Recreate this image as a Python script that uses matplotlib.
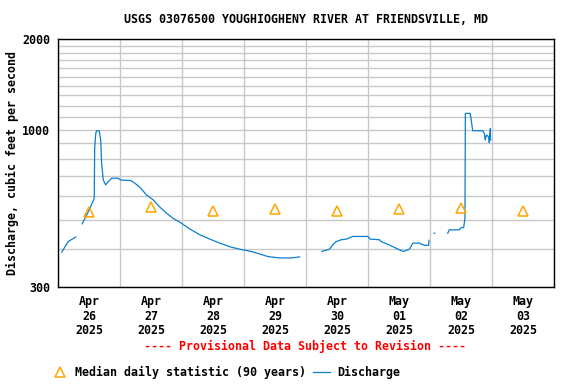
import matplotlib
matplotlib.use("Agg")
import matplotlib.pyplot as plt
import matplotlib.dates as mdates
from matplotlib.lines import Line2D
import numpy as np
import pandas as pd

# discharge, cfs (None = gap in the record)
q_times = [
    "2025-04-26 01:20", "2025-04-26 03:50", "2025-04-26 06:45", "2025-04-26 08:00",
    "2025-04-26 09:15", "2025-04-26 11:00", "2025-04-26 12:15", "2025-04-26 13:30",
    "2025-04-26 13:55", "2025-04-26 14:05", "2025-04-26 14:30", "2025-04-26 14:50",
    "2025-04-26 15:50", "2025-04-26 16:25", "2025-04-26 16:45", "2025-04-26 17:25",
    "2025-04-26 18:20", "2025-04-26 19:20", "2025-04-26 20:40", "2025-04-26 23:10",
    "2025-04-27 00:05", "2025-04-27 04:05", "2025-04-27 05:40", "2025-04-27 07:35",
    "2025-04-27 10:10", "2025-04-27 12:45", "2025-04-27 15:20", "2025-04-27 17:55",
    "2025-04-27 20:25", "2025-04-27 23:40", "2025-04-28 02:55", "2025-04-28 06:45",
    "2025-04-28 10:40", "2025-04-28 14:30", "2025-04-28 19:00", "2025-04-28 22:15",
    "2025-04-29 02:45", "2025-04-29 09:10", "2025-04-29 13:40", "2025-04-29 18:10",
    "2025-04-29 21:25", "2025-04-30 02:00",
    "2025-04-30 06:00", "2025-04-30 09:00", "2025-04-30 10:15", "2025-04-30 11:35",
    "2025-04-30 13:30", "2025-04-30 15:30", "2025-04-30 18:00", "2025-04-30 23:50",
    "2025-05-01 00:45", "2025-05-01 04:20", "2025-05-01 05:00", "2025-05-01 07:55",
    "2025-05-01 10:45", "2025-05-01 12:05", "2025-05-01 13:35", "2025-05-01 15:55",
    "2025-05-01 17:15", "2025-05-01 19:45", "2025-05-01 21:45", "2025-05-01 23:20",
    "2025-05-01 23:30", "2025-05-02 00:30",
    "2025-05-02 01:30", "2025-05-02 01:45", "2025-05-02 04:00",
    "2025-05-02 06:45", "2025-05-02 07:20", "2025-05-02 11:15", "2025-05-02 11:55",
    "2025-05-02 12:55", "2025-05-02 13:25", "2025-05-02 13:35", "2025-05-02 15:25",
    "2025-05-02 15:45", "2025-05-02 16:25", "2025-05-02 20:15", "2025-05-02 20:55",
    "2025-05-02 21:15", "2025-05-02 21:45", "2025-05-02 22:35", "2025-05-02 22:50",
    "2025-05-02 23:15", "2025-05-02 23:20",
]
q_values = [
    391, 424, 439, None,
    486, 520, 548, 579,
    591, 867, 972, 992,
    992, 924, 775, 680,
    655, 671, 689, 689,
    680, 677, 663, 643,
    606, 584, 552, 527,
    507, 488, 467, 447,
    432, 419, 406, 400,
    393, 378, 374, 374,
    377, None,
    393, 400, 414, 424,
    430, 432, 441, 441,
    432, 430, 424, 414,
    403, 398, 393, 400,
    419, 419, 412, 412,
    428, None,
    452, 452, None,
    452, 464, 464, 472,
    472, 507, 1133, 1133,
    1091, 992, 992, 972,
    924, 960, 947, 905,
    1010, 924,
]

# median daily statistic (90 years), plotted at noon
med_days = ["2025-04-26", "2025-04-27", "2025-04-28", "2025-04-29",
            "2025-04-30", "2025-05-01", "2025-05-02", "2025-05-03"]
med_values = [531, 554, 535, 545, 535, 543, 547, 538]

y_grid = [300, 400, 500, 600, 700, 800, 900, 1000, 1100, 1200, 1300,
          1400, 1500, 1600, 1700, 1800, 1900, 2000]
y_labels = {300: "300", 1000: "1000", 2000: "2000"}

plt.rcParams['font.family'] = ['DejaVu Sans Mono']
plt.rcParams['font.weight'] = 'bold'
fs = 8.4

t = pd.to_datetime(q_times)
q = np.array([np.nan if v is None else v for v in q_values], dtype=float)
tm = pd.to_datetime(med_days) + pd.Timedelta(hours=12)

fig = plt.figure(figsize=(5.76, 3.84), dpi=100)
ax = fig.add_axes([0.1012, 0.2534, 0.8611, 0.6443])

ax.plot(t, q, color='#0a7fd0', lw=0.9)
ax.plot(tm, med_values, linestyle='none', marker='^', ms=7.5,
        mfc='none', mec='#ffa500', mew=1.1)

ax.set_yscale('log')
ax.set_ylim(300, 2000)
ax.set_xlim(pd.Timestamp("2025-04-26"), pd.Timestamp("2025-05-04"))

ax.set_yticks(y_grid)
ax.set_yticklabels([y_labels.get(v, "") for v in y_grid])
ax.yaxis.set_minor_locator(matplotlib.ticker.NullLocator())

ax.xaxis.set_major_locator(mdates.DayLocator())
ax.xaxis.set_major_formatter(matplotlib.ticker.NullFormatter())
ax.xaxis.set_minor_locator(mdates.HourLocator(byhour=12))
ax.xaxis.set_minor_formatter(mdates.DateFormatter('%b\n%d\n%Y'))

ax.grid(True, which='major', color='#c8c8c8', lw=1.0)
ax.set_axisbelow(True)
ax.tick_params(axis='both', which='both', length=0)
ax.tick_params(axis='y', pad=6, labelsize=fs)
ax.tick_params(axis='x', which='minor', pad=6, labelsize=fs)
for lab in ax.xaxis.get_minorticklabels():
    lab.set_linespacing(1.15)
for s in ax.spines.values():
    s.set_linewidth(1.0)
    s.set_color('black')

fig.text(0.5318, 0.948, "USGS 03076500 YOUGHIOGHENY RIVER AT FRIENDSVILLE, MD",
         ha='center', va='center', fontsize=fs)
fig.text(0.021, 1 - 163 / 384, "Discharge, cubic feet per second",
         rotation=90, ha='center', va='center', fontsize=fs)
fig.text(0.5297, 0.099, "---- Provisional Data Subject to Revision ----",
         ha='center', va='center', fontsize=fs, color='#ff0000')

# legend
ly = 1 - 372 / 384
fig.add_artist(Line2D([60 / 576], [ly], marker='^', ms=7.5, mfc='none',
                      mec='#ffa500', mew=1.1, linestyle='none'))
fig.text(75 / 576, ly, "Median daily statistic (90 years)", ha='left',
         va='center', fontsize=fs)
fig.add_artist(Line2D([313 / 576, 330 / 576], [ly, ly], color='#0a7fd0', lw=0.9))
fig.text(337 / 576, ly, "Discharge", ha='left', va='center', fontsize=fs)

fig.savefig('out.png', dpi=100)
